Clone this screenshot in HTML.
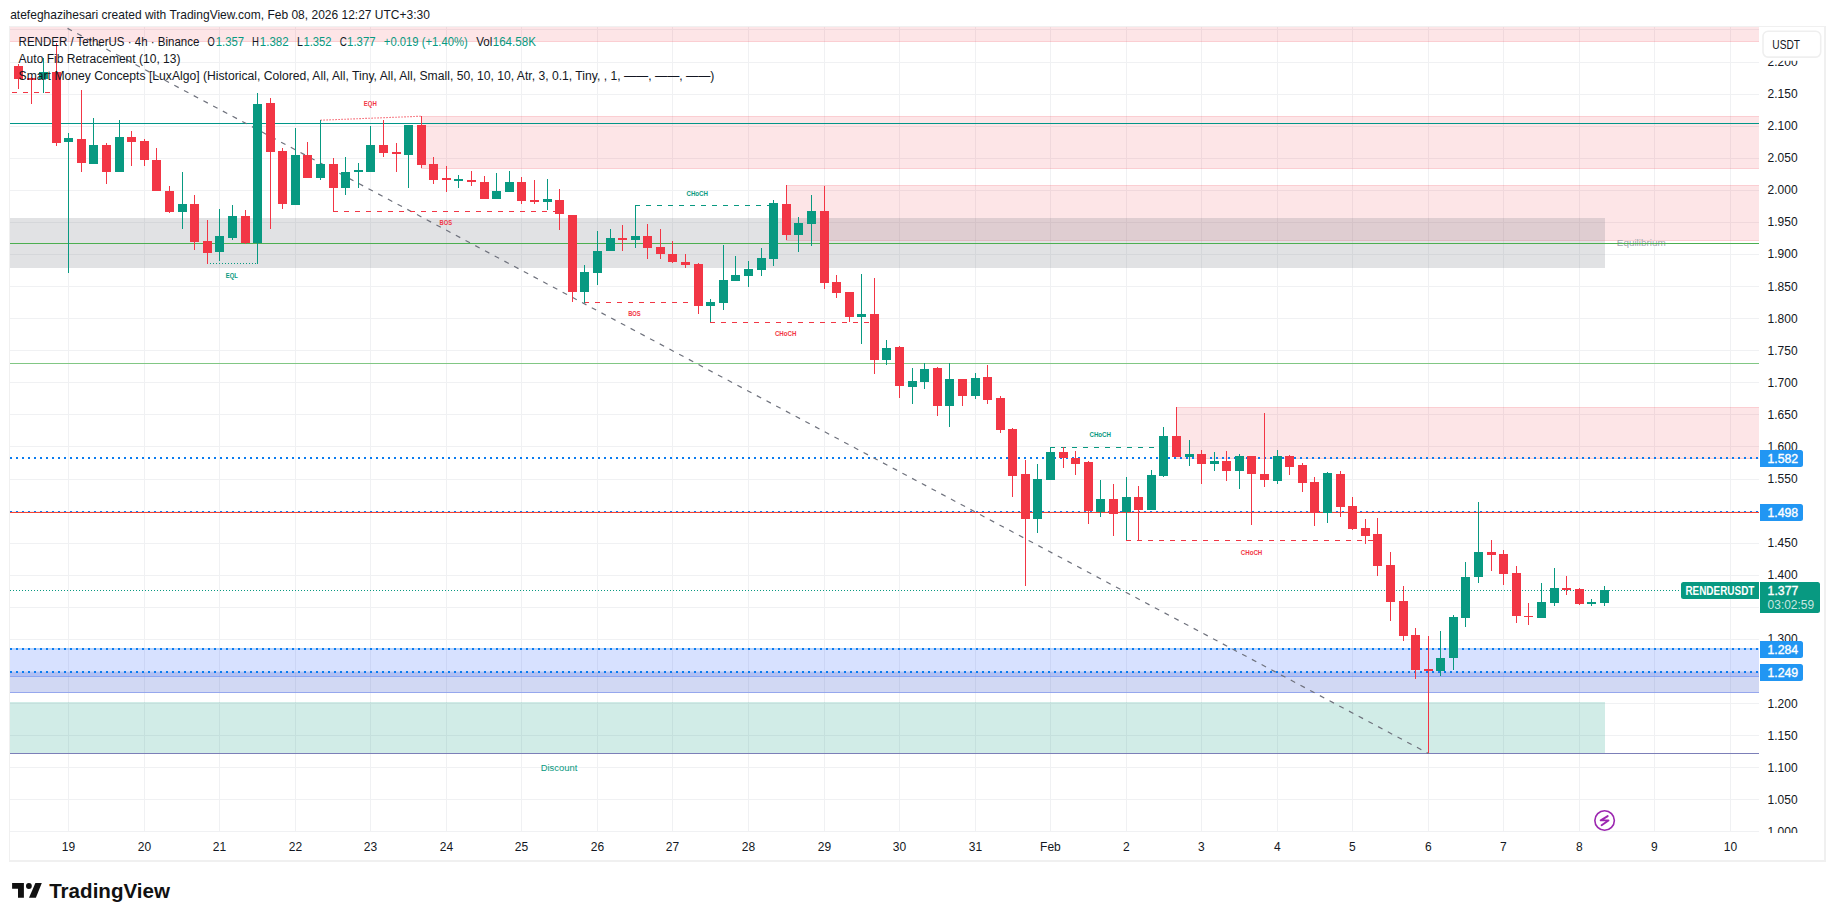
<!DOCTYPE html>
<html><head><meta charset="utf-8"><style>
html,body{margin:0;padding:0;background:#fff;}
body{width:1835px;height:921px;overflow:hidden;}
svg{display:block;font-family:"Liberation Sans",Arial,sans-serif;}
</style></head><body>
<svg width="1835" height="921" viewBox="0 0 1835 921">
<rect width="1835" height="921" fill="#fff"/>
<clipPath id="pane"><rect x="10" y="27" width="1749" height="805"/></clipPath>
<g clip-path="url(#pane)" shape-rendering="crispEdges">
<g fill="#f0f1f3"><rect x="68" y="27" width="1" height="805"/><rect x="144" y="27" width="1" height="805"/><rect x="219" y="27" width="1" height="805"/><rect x="295" y="27" width="1" height="805"/><rect x="370" y="27" width="1" height="805"/><rect x="446" y="27" width="1" height="805"/><rect x="521" y="27" width="1" height="805"/><rect x="597" y="27" width="1" height="805"/><rect x="672" y="27" width="1" height="805"/><rect x="748" y="27" width="1" height="805"/><rect x="824" y="27" width="1" height="805"/><rect x="899" y="27" width="1" height="805"/><rect x="975" y="27" width="1" height="805"/><rect x="1050" y="27" width="1" height="805"/><rect x="1126" y="27" width="1" height="805"/><rect x="1201" y="27" width="1" height="805"/><rect x="1277" y="27" width="1" height="805"/><rect x="1352" y="27" width="1" height="805"/><rect x="1428" y="27" width="1" height="805"/><rect x="1503" y="27" width="1" height="805"/><rect x="1579" y="27" width="1" height="805"/><rect x="1654" y="27" width="1" height="805"/><rect x="1730" y="27" width="1" height="805"/><rect x="10" y="831" width="1749" height="1"/><rect x="10" y="799" width="1749" height="1"/><rect x="10" y="767" width="1749" height="1"/><rect x="10" y="735" width="1749" height="1"/><rect x="10" y="703" width="1749" height="1"/><rect x="10" y="671" width="1749" height="1"/><rect x="10" y="639" width="1749" height="1"/><rect x="10" y="607" width="1749" height="1"/><rect x="10" y="575" width="1749" height="1"/><rect x="10" y="543" width="1749" height="1"/><rect x="10" y="511" width="1749" height="1"/><rect x="10" y="479" width="1749" height="1"/><rect x="10" y="446" width="1749" height="1"/><rect x="10" y="414" width="1749" height="1"/><rect x="10" y="382" width="1749" height="1"/><rect x="10" y="350" width="1749" height="1"/><rect x="10" y="318" width="1749" height="1"/><rect x="10" y="286" width="1749" height="1"/><rect x="10" y="254" width="1749" height="1"/><rect x="10" y="222" width="1749" height="1"/><rect x="10" y="190" width="1749" height="1"/><rect x="10" y="158" width="1749" height="1"/><rect x="10" y="126" width="1749" height="1"/><rect x="10" y="94" width="1749" height="1"/><rect x="10" y="62" width="1749" height="1"/><rect x="10" y="29" width="1749" height="1"/></g>
<rect x="10" y="26" width="1749" height="16" fill="#F23645" fill-opacity="0.13"/>
<rect x="10" y="26" width="1749" height="1" fill="#F23645" fill-opacity="0.13"/>
<rect x="10" y="41" width="1749" height="1" fill="#F23645" fill-opacity="0.13"/>
<rect x="421" y="116" width="1338" height="53" fill="#F23645" fill-opacity="0.13"/>
<rect x="421" y="116" width="1338" height="1" fill="#F23645" fill-opacity="0.13"/>
<rect x="421" y="168" width="1338" height="1" fill="#F23645" fill-opacity="0.13"/>
<rect x="786" y="185" width="973" height="56" fill="#F23645" fill-opacity="0.13"/>
<rect x="786" y="185" width="973" height="1" fill="#F23645" fill-opacity="0.13"/>
<rect x="786" y="240" width="973" height="1" fill="#F23645" fill-opacity="0.13"/>
<rect x="1176" y="407" width="583" height="52" fill="#F23645" fill-opacity="0.13"/>
<rect x="1176" y="407" width="583" height="1" fill="#F23645" fill-opacity="0.13"/>
<rect x="1176" y="458" width="583" height="1" fill="#F23645" fill-opacity="0.13"/>
<rect x="10" y="218" width="1595" height="50" fill="#787b86" fill-opacity="0.22"/>
<rect x="10" y="648" width="1749" height="29" fill="#2962ff" fill-opacity="0.19"/>
<rect x="10" y="672" width="1749" height="21" fill="#3350c8" fill-opacity="0.225"/>
<rect x="10" y="676" width="1749" height="1" fill="#6f8ff0" fill-opacity="0.55"/>
<rect x="10" y="692" width="1749" height="1" fill="#8fa2ec" fill-opacity="0.9"/>
<rect x="10" y="702" width="1595" height="51" fill="#089981" fill-opacity="0.19"/>
<rect x="10" y="753" width="1749" height="1" fill="#7c7fb8"/>
<text x="1616.8" y="245.8" fill="#a3a6af" font-size="9.2" textLength="48.9" lengthAdjust="spacingAndGlyphs">Equilibrium</text>
<rect x="10" y="123" width="1749" height="1" fill="#009688"/>
<rect x="10" y="243" width="1749" height="1" fill="#4caf50"/>
<rect x="10" y="363" width="1749" height="1" fill="#81c784"/>
<line x1="10" y1="458.0" x2="1759" y2="458.0" stroke="#0a7cf0" stroke-width="2" stroke-dasharray="2 4"/>
<line x1="10" y1="512.0" x2="1759" y2="512.0" stroke="#0a7cf0" stroke-width="2" stroke-dasharray="2 4"/>
<rect x="10" y="512" width="1749" height="1" fill="#f44336"/>
<rect x="10" y="648" width="1749" height="2" fill="#2196f3" fill-opacity="0.18"/>
<line x1="10" y1="649.0" x2="1759" y2="649.0" stroke="#0a7cf0" stroke-width="2" stroke-dasharray="2 4"/>
<line x1="10" y1="672.0" x2="1759" y2="672.0" stroke="#0a7cf0" stroke-width="2" stroke-dasharray="2 4"/>
<line x1="10" y1="590.5" x2="1680" y2="590.5" stroke="#089981" stroke-width="1" stroke-dasharray="1 2"/>
</g>
<g clip-path="url(#pane)">
<line x1="51.8" y1="20" x2="1428.5" y2="753.5" stroke="#6e717c" stroke-width="1.2" stroke-dasharray="5 6" stroke-dashoffset="4.2"/>
</g>
<g clip-path="url(#pane)" shape-rendering="crispEdges">
<line x1="12" y1="92.5" x2="50.5" y2="92.5" stroke="#F23645" stroke-width="1" stroke-dasharray="5 6"/>
<line x1="333" y1="211.5" x2="560" y2="211.5" stroke="#F23645" stroke-width="1" stroke-dasharray="5 6"/>
<line x1="635" y1="205.5" x2="774" y2="205.5" stroke="#089981" stroke-width="1" stroke-dasharray="5 6"/>
<line x1="584" y1="302.5" x2="699" y2="302.5" stroke="#F23645" stroke-width="1" stroke-dasharray="5 6"/>
<line x1="710" y1="322.5" x2="875" y2="322.5" stroke="#F23645" stroke-width="1" stroke-dasharray="5 6"/>
<line x1="1050" y1="447.5" x2="1164" y2="447.5" stroke="#089981" stroke-width="1" stroke-dasharray="5 6"/>
<line x1="1126" y1="540.5" x2="1373" y2="540.5" stroke="#F23645" stroke-width="1" stroke-dasharray="5 6"/>
</g>
<g clip-path="url(#pane)">
<line x1="320.5" y1="120.2" x2="421.5" y2="116.2" stroke="#F23645" stroke-width="1.1" stroke-dasharray="1.2 1.8"/>
<line x1="207" y1="263.5" x2="258" y2="263.5" stroke="#089981" stroke-width="1" stroke-dasharray="1 2" shape-rendering="crispEdges"/>
</g>
<g clip-path="url(#pane)" shape-rendering="crispEdges"><g fill="#F23645"><rect x="18" y="64" width="1" height="25"/><rect x="14" y="66" width="9" height="13"/><rect x="31" y="77" width="1" height="27"/><rect x="27" y="78" width="9" height="2"/><rect x="56" y="43" width="1" height="103"/><rect x="52" y="72" width="9" height="71"/><rect x="81" y="90" width="1" height="82"/><rect x="77" y="139" width="9" height="24"/><rect x="106" y="143" width="1" height="41"/><rect x="102" y="145" width="9" height="27"/><rect x="131" y="131" width="1" height="35"/><rect x="127" y="137" width="9" height="5"/><rect x="144" y="139" width="1" height="27"/><rect x="140" y="141" width="9" height="19"/><rect x="156" y="148" width="1" height="43"/><rect x="152" y="160" width="9" height="31"/><rect x="169" y="186" width="1" height="27"/><rect x="165" y="191" width="9" height="21"/><rect x="194" y="195" width="1" height="55"/><rect x="190" y="204" width="9" height="38"/><rect x="207" y="220" width="1" height="44"/><rect x="203" y="241" width="9" height="12"/><rect x="245" y="210" width="1" height="34"/><rect x="241" y="216" width="9" height="27"/><rect x="270" y="98" width="1" height="131"/><rect x="266" y="103" width="9" height="49"/><rect x="282" y="148" width="1" height="61"/><rect x="278" y="151" width="9" height="53"/><rect x="307" y="142" width="1" height="36"/><rect x="303" y="155" width="9" height="23"/><rect x="333" y="158" width="1" height="53"/><rect x="329" y="164" width="9" height="24"/><rect x="383" y="120" width="1" height="37"/><rect x="379" y="145" width="9" height="8"/><rect x="396" y="143" width="1" height="29"/><rect x="392" y="152" width="9" height="2"/><rect x="421" y="116" width="1" height="52"/><rect x="417" y="125" width="9" height="40"/><rect x="433" y="157" width="1" height="27"/><rect x="429" y="164" width="9" height="16"/><rect x="446" y="166" width="1" height="26"/><rect x="442" y="178" width="9" height="2"/><rect x="471" y="171" width="1" height="15"/><rect x="467" y="180" width="9" height="2"/><rect x="484" y="176" width="1" height="23"/><rect x="480" y="182" width="9" height="17"/><rect x="521" y="177" width="1" height="27"/><rect x="517" y="182" width="9" height="19"/><rect x="534" y="180" width="1" height="24"/><rect x="530" y="200" width="9" height="2"/><rect x="559" y="189" width="1" height="41"/><rect x="555" y="200" width="9" height="14"/><rect x="572" y="215" width="1" height="87"/><rect x="568" y="215" width="9" height="77"/><rect x="622" y="225" width="1" height="26"/><rect x="618" y="238" width="9" height="2"/><rect x="647" y="224" width="1" height="35"/><rect x="643" y="236" width="9" height="12"/><rect x="660" y="229" width="1" height="30"/><rect x="656" y="247" width="9" height="7"/><rect x="672" y="241" width="1" height="22"/><rect x="668" y="254" width="9" height="8"/><rect x="685" y="254" width="1" height="14"/><rect x="681" y="262" width="9" height="3"/><rect x="698" y="263" width="1" height="51"/><rect x="694" y="264" width="9" height="42"/><rect x="786" y="185" width="1" height="55"/><rect x="782" y="204" width="9" height="31"/><rect x="824" y="186" width="1" height="103"/><rect x="820" y="211" width="9" height="72"/><rect x="836" y="275" width="1" height="23"/><rect x="832" y="282" width="9" height="11"/><rect x="849" y="292" width="1" height="30"/><rect x="845" y="292" width="9" height="25"/><rect x="874" y="278" width="1" height="96"/><rect x="870" y="314" width="9" height="46"/><rect x="899" y="346" width="1" height="52"/><rect x="895" y="347" width="9" height="39"/><rect x="937" y="367" width="1" height="49"/><rect x="933" y="368" width="9" height="38"/><rect x="962" y="379" width="1" height="27"/><rect x="958" y="379" width="9" height="17"/><rect x="987" y="365" width="1" height="39"/><rect x="983" y="377" width="9" height="23"/><rect x="1000" y="396" width="1" height="37"/><rect x="996" y="398" width="9" height="32"/><rect x="1012" y="428" width="1" height="69"/><rect x="1008" y="429" width="9" height="47"/><rect x="1025" y="460" width="1" height="126"/><rect x="1021" y="474" width="9" height="45"/><rect x="1063" y="447" width="1" height="21"/><rect x="1059" y="452" width="9" height="6"/><rect x="1075" y="451" width="1" height="24"/><rect x="1071" y="458" width="9" height="6"/><rect x="1088" y="461" width="1" height="63"/><rect x="1084" y="462" width="9" height="49"/><rect x="1113" y="484" width="1" height="52"/><rect x="1109" y="499" width="9" height="15"/><rect x="1138" y="486" width="1" height="54"/><rect x="1134" y="497" width="9" height="13"/><rect x="1176" y="407" width="1" height="50"/><rect x="1172" y="436" width="9" height="21"/><rect x="1201" y="450" width="1" height="34"/><rect x="1197" y="454" width="9" height="10"/><rect x="1226" y="451" width="1" height="30"/><rect x="1222" y="461" width="9" height="10"/><rect x="1251" y="456" width="1" height="69"/><rect x="1247" y="456" width="9" height="18"/><rect x="1264" y="413" width="1" height="74"/><rect x="1260" y="474" width="9" height="6"/><rect x="1289" y="455" width="1" height="20"/><rect x="1285" y="456" width="9" height="11"/><rect x="1302" y="463" width="1" height="29"/><rect x="1298" y="465" width="9" height="18"/><rect x="1314" y="477" width="1" height="49"/><rect x="1310" y="482" width="9" height="31"/><rect x="1340" y="471" width="1" height="46"/><rect x="1336" y="474" width="9" height="33"/><rect x="1352" y="497" width="1" height="33"/><rect x="1348" y="506" width="9" height="23"/><rect x="1365" y="519" width="1" height="25"/><rect x="1361" y="528" width="9" height="8"/><rect x="1377" y="518" width="1" height="58"/><rect x="1373" y="534" width="9" height="32"/><rect x="1390" y="552" width="1" height="69"/><rect x="1386" y="565" width="9" height="37"/><rect x="1403" y="586" width="1" height="55"/><rect x="1399" y="601" width="9" height="35"/><rect x="1415" y="628" width="1" height="51"/><rect x="1411" y="635" width="9" height="35"/><rect x="1428" y="636" width="1" height="117"/><rect x="1424" y="669" width="9" height="2"/><rect x="1491" y="540" width="1" height="31"/><rect x="1487" y="552" width="9" height="3"/><rect x="1503" y="550" width="1" height="35"/><rect x="1499" y="554" width="9" height="20"/><rect x="1516" y="566" width="1" height="57"/><rect x="1512" y="573" width="9" height="43"/><rect x="1528" y="603" width="1" height="22"/><rect x="1524" y="616" width="9" height="1"/><rect x="1566" y="576" width="1" height="19"/><rect x="1562" y="588" width="9" height="2"/><rect x="1579" y="588" width="1" height="17"/><rect x="1575" y="589" width="9" height="15"/></g>
<g fill="#089981"><rect x="43" y="58" width="1" height="35"/><rect x="39" y="72" width="9" height="7"/><rect x="68" y="133" width="1" height="140"/><rect x="64" y="138" width="9" height="4"/><rect x="93" y="118" width="1" height="46"/><rect x="89" y="145" width="9" height="19"/><rect x="119" y="120" width="1" height="52"/><rect x="115" y="137" width="9" height="35"/><rect x="182" y="172" width="1" height="57"/><rect x="178" y="204" width="9" height="8"/><rect x="219" y="209" width="1" height="52"/><rect x="215" y="236" width="9" height="16"/><rect x="232" y="205" width="1" height="35"/><rect x="228" y="216" width="9" height="22"/><rect x="257" y="93" width="1" height="171"/><rect x="253" y="104" width="9" height="139"/><rect x="295" y="128" width="1" height="77"/><rect x="291" y="155" width="9" height="50"/><rect x="320" y="120" width="1" height="60"/><rect x="316" y="164" width="9" height="14"/><rect x="345" y="157" width="1" height="38"/><rect x="341" y="172" width="9" height="16"/><rect x="358" y="163" width="1" height="25"/><rect x="354" y="170" width="9" height="2"/><rect x="370" y="126" width="1" height="46"/><rect x="366" y="145" width="9" height="27"/><rect x="408" y="125" width="1" height="63"/><rect x="404" y="125" width="9" height="30"/><rect x="458" y="175" width="1" height="13"/><rect x="454" y="179" width="9" height="2"/><rect x="496" y="173" width="1" height="26"/><rect x="492" y="191" width="9" height="8"/><rect x="509" y="171" width="1" height="21"/><rect x="505" y="182" width="9" height="10"/><rect x="547" y="179" width="1" height="31"/><rect x="543" y="199" width="9" height="3"/><rect x="584" y="265" width="1" height="38"/><rect x="580" y="272" width="9" height="20"/><rect x="597" y="231" width="1" height="54"/><rect x="593" y="251" width="9" height="22"/><rect x="610" y="229" width="1" height="22"/><rect x="606" y="238" width="9" height="13"/><rect x="635" y="205" width="1" height="43"/><rect x="631" y="236" width="9" height="4"/><rect x="710" y="299" width="1" height="23"/><rect x="706" y="302" width="9" height="4"/><rect x="723" y="245" width="1" height="65"/><rect x="719" y="280" width="9" height="23"/><rect x="735" y="256" width="1" height="25"/><rect x="731" y="275" width="9" height="6"/><rect x="748" y="261" width="1" height="26"/><rect x="744" y="269" width="9" height="7"/><rect x="761" y="248" width="1" height="28"/><rect x="757" y="258" width="9" height="12"/><rect x="773" y="200" width="1" height="66"/><rect x="769" y="203" width="9" height="56"/><rect x="798" y="217" width="1" height="35"/><rect x="794" y="223" width="9" height="12"/><rect x="811" y="195" width="1" height="51"/><rect x="807" y="211" width="9" height="13"/><rect x="861" y="274" width="1" height="70"/><rect x="857" y="314" width="9" height="3"/><rect x="886" y="340" width="1" height="25"/><rect x="882" y="348" width="9" height="12"/><rect x="912" y="368" width="1" height="36"/><rect x="908" y="381" width="9" height="6"/><rect x="924" y="363" width="1" height="26"/><rect x="920" y="369" width="9" height="13"/><rect x="949" y="363" width="1" height="64"/><rect x="945" y="379" width="9" height="27"/><rect x="975" y="373" width="1" height="26"/><rect x="971" y="378" width="9" height="18"/><rect x="1037" y="464" width="1" height="69"/><rect x="1033" y="479" width="9" height="40"/><rect x="1050" y="447" width="1" height="33"/><rect x="1046" y="452" width="9" height="28"/><rect x="1100" y="480" width="1" height="37"/><rect x="1096" y="499" width="9" height="13"/><rect x="1126" y="477" width="1" height="63"/><rect x="1122" y="497" width="9" height="15"/><rect x="1151" y="470" width="1" height="40"/><rect x="1147" y="475" width="9" height="35"/><rect x="1163" y="427" width="1" height="50"/><rect x="1159" y="436" width="9" height="40"/><rect x="1189" y="440" width="1" height="26"/><rect x="1185" y="454" width="9" height="3"/><rect x="1214" y="452" width="1" height="19"/><rect x="1210" y="461" width="9" height="3"/><rect x="1239" y="454" width="1" height="35"/><rect x="1235" y="456" width="9" height="15"/><rect x="1277" y="450" width="1" height="34"/><rect x="1273" y="456" width="9" height="25"/><rect x="1327" y="472" width="1" height="51"/><rect x="1323" y="473" width="9" height="40"/><rect x="1440" y="631" width="1" height="45"/><rect x="1436" y="658" width="9" height="13"/><rect x="1453" y="615" width="1" height="55"/><rect x="1449" y="617" width="9" height="41"/><rect x="1465" y="562" width="1" height="65"/><rect x="1461" y="577" width="9" height="41"/><rect x="1478" y="502" width="1" height="81"/><rect x="1474" y="552" width="9" height="25"/><rect x="1541" y="583" width="1" height="35"/><rect x="1537" y="602" width="9" height="16"/><rect x="1554" y="568" width="1" height="38"/><rect x="1550" y="588" width="9" height="15"/><rect x="1591" y="599" width="1" height="7"/><rect x="1587" y="602" width="9" height="2"/><rect x="1604" y="586" width="1" height="20"/><rect x="1600" y="590" width="9" height="13"/></g></g>
<text x="363.8" y="105.9" fill="#F23645" font-size="7" font-weight="bold" textLength="13" lengthAdjust="spacingAndGlyphs">EQH</text>
<text x="225.8" y="278" fill="#089981" font-size="7" font-weight="bold" textLength="12.1" lengthAdjust="spacingAndGlyphs">EQL</text>
<text x="439.6" y="224.6" fill="#F23645" font-size="7" font-weight="bold" textLength="12.5" lengthAdjust="spacingAndGlyphs">BOS</text>
<text x="686.5" y="196" fill="#089981" font-size="7" font-weight="bold" textLength="21.5" lengthAdjust="spacingAndGlyphs">CHoCH</text>
<text x="628.2" y="315.6" fill="#F23645" font-size="7" font-weight="bold" textLength="12.5" lengthAdjust="spacingAndGlyphs">BOS</text>
<text x="774.9" y="335.8" fill="#F23645" font-size="7" font-weight="bold" textLength="21.5" lengthAdjust="spacingAndGlyphs">CHoCH</text>
<text x="1089.5" y="437" fill="#089981" font-size="7" font-weight="bold" textLength="21.5" lengthAdjust="spacingAndGlyphs">CHoCH</text>
<text x="1240.8" y="554.9" fill="#F23645" font-size="7" font-weight="bold" textLength="21.5" lengthAdjust="spacingAndGlyphs">CHoCH</text>
<text x="540.7" y="770.9" fill="#089981" font-size="9.2" textLength="36.6" lengthAdjust="spacingAndGlyphs">Discount</text>
<g transform="translate(1604.6,820.5)"><circle r="9.75" fill="#fff" stroke="#9c27b0" stroke-width="1.6"/><path d="M3.1,-4.4 L-3.9,-0.1 H3.9 L-3,4.8" fill="none" stroke="#9c27b0" stroke-width="1.9" stroke-linejoin="round" stroke-linecap="round"/></g>
<text x="18.6" y="45.5" font-size="12" fill="#131722" textLength="180.8" lengthAdjust="spacingAndGlyphs">RENDER / TetherUS · 4h · Binance</text>
<text x="207.5" y="45.5" font-size="12" fill="#131722" textLength="7.2" lengthAdjust="spacingAndGlyphs">O</text>
<text x="215.7" y="45.5" font-size="12" fill="#089981" textLength="28.4" lengthAdjust="spacingAndGlyphs">1.357</text>
<text x="252" y="45.5" font-size="12" fill="#131722" textLength="6.9" lengthAdjust="spacingAndGlyphs">H</text>
<text x="259.8" y="45.5" font-size="12" fill="#089981" textLength="28.9" lengthAdjust="spacingAndGlyphs">1.382</text>
<text x="297.1" y="45.5" font-size="12" fill="#131722" textLength="5.9" lengthAdjust="spacingAndGlyphs">L</text>
<text x="303.4" y="45.5" font-size="12" fill="#089981" textLength="28.1" lengthAdjust="spacingAndGlyphs">1.352</text>
<text x="339.7" y="45.5" font-size="12" fill="#131722" textLength="7.1" lengthAdjust="spacingAndGlyphs">C</text>
<text x="347.1" y="45.5" font-size="12" fill="#089981" textLength="28.5" lengthAdjust="spacingAndGlyphs">1.377</text>
<text x="383.8" y="45.5" font-size="12" fill="#089981" textLength="84.0" lengthAdjust="spacingAndGlyphs">+0.019 (+1.40%)</text>
<text x="476.2" y="45.5" font-size="12" fill="#131722" textLength="16.1" lengthAdjust="spacingAndGlyphs">Vol</text>
<text x="492.7" y="45.5" font-size="12" fill="#089981" textLength="43.2" lengthAdjust="spacingAndGlyphs">164.58K</text>
<text x="18.6" y="62.5" font-size="12" fill="#131722" textLength="161.9" lengthAdjust="spacingAndGlyphs">Auto Fib Retracement (10, 13)</text>
<text x="18.6" y="79.8" font-size="12" fill="#131722" textLength="695.8" lengthAdjust="spacingAndGlyphs">Smart Money Concepts [LuxAlgo] (Historical, Colored, All, All, Tiny, All, All, Small, 50, 10, 10, Atr, 3, 0.1, Tiny, , 1, ——, ——, ——)</text>
<clipPath id="pax"><rect x="1759" y="27" width="66" height="806"/></clipPath>
<g clip-path="url(#pax)" font-size="12" fill="#131722"><text x="1767.6" y="835.8">1.000</text><text x="1767.6" y="803.7">1.050</text><text x="1767.6" y="771.6">1.100</text><text x="1767.6" y="739.5">1.150</text><text x="1767.6" y="707.5">1.200</text><text x="1767.6" y="643.3">1.300</text><text x="1767.6" y="579.2">1.400</text><text x="1767.6" y="547.1">1.450</text><text x="1767.6" y="482.9">1.550</text><text x="1767.6" y="450.9">1.600</text><text x="1767.6" y="418.8">1.650</text><text x="1767.6" y="386.7">1.700</text><text x="1767.6" y="354.6">1.750</text><text x="1767.6" y="322.6">1.800</text><text x="1767.6" y="290.5">1.850</text><text x="1767.6" y="258.4">1.900</text><text x="1767.6" y="226.3">1.950</text><text x="1767.6" y="194.3">2.000</text><text x="1767.6" y="162.2">2.050</text><text x="1767.6" y="130.1">2.100</text><text x="1767.6" y="98.0">2.150</text><text x="1767.6" y="65.9">2.200</text></g>
<rect x="1760" y="56" width="63" height="4.8" fill="#fff"/>
<rect x="1763" y="31.3" width="57.7" height="25.8" rx="5" fill="#fff" stroke="#efefef" stroke-width="1.6"/>
<text x="1772.3" y="48.9" font-size="12.3" fill="#131722" textLength="27.7" lengthAdjust="spacingAndGlyphs">USDT</text>
<path d="M1760,450 H1800.5 Q1803,450 1803,452.5 V464.5 Q1803,467 1800.5,467 H1760 Z" fill="#2196f3"/>
<text x="1767.4" y="462.9" font-size="12.3" fill="#fff" stroke="#fff" stroke-width="0.35">1.582</text>
<path d="M1760,504 H1800.5 Q1803,504 1803,506.5 V518.5 Q1803,521 1800.5,521 H1760 Z" fill="#2196f3"/>
<text x="1767.4" y="516.9" font-size="12.3" fill="#fff" stroke="#fff" stroke-width="0.35">1.498</text>
<path d="M1760,641 H1800.5 Q1803,641 1803,643.5 V655.5 Q1803,658 1800.5,658 H1760 Z" fill="#2196f3"/>
<text x="1767.4" y="653.9" font-size="12.3" fill="#fff" stroke="#fff" stroke-width="0.35">1.284</text>
<path d="M1760,664 H1800.5 Q1803,664 1803,666.5 V678.5 Q1803,681 1800.5,681 H1760 Z" fill="#2196f3"/>
<text x="1767.4" y="676.9" font-size="12.3" fill="#fff" stroke="#fff" stroke-width="0.35">1.249</text>
<path d="M1760,582 H1817.5 Q1820,582 1820,584.5 V610.5 Q1820,613 1817.5,613 H1760 Z" fill="#089981"/>
<text x="1767.6" y="595" font-size="12.3" fill="#fff" stroke="#fff" stroke-width="0.35">1.377</text>
<text x="1767.6" y="608.8" font-size="12.3" fill="#fff" fill-opacity="0.78" textLength="46.5" lengthAdjust="spacingAndGlyphs">03:02:59</text>
<path d="M1759,582 V599 H1683.5 Q1681,599 1681,596.5 V584.5 Q1681,582 1683.5,582 Z" fill="#089981"/>
<text x="1719.9" y="595" font-size="12" font-weight="bold" fill="#fff" text-anchor="middle" textLength="69" lengthAdjust="spacingAndGlyphs">RENDERUSDT</text>
<g font-size="12" fill="#131722"><text x="68.4" y="850.9" text-anchor="middle">19</text><text x="144.4" y="850.9" text-anchor="middle">20</text><text x="219.4" y="850.9" text-anchor="middle">21</text><text x="295.4" y="850.9" text-anchor="middle">22</text><text x="370.4" y="850.9" text-anchor="middle">23</text><text x="446.4" y="850.9" text-anchor="middle">24</text><text x="521.4" y="850.9" text-anchor="middle">25</text><text x="597.4" y="850.9" text-anchor="middle">26</text><text x="672.4" y="850.9" text-anchor="middle">27</text><text x="748.4" y="850.9" text-anchor="middle">28</text><text x="824.4" y="850.9" text-anchor="middle">29</text><text x="899.4" y="850.9" text-anchor="middle">30</text><text x="975.4" y="850.9" text-anchor="middle">31</text><text x="1050.4" y="850.9" text-anchor="middle">Feb</text><text x="1126.4" y="850.9" text-anchor="middle">2</text><text x="1201.4" y="850.9" text-anchor="middle">3</text><text x="1277.4" y="850.9" text-anchor="middle">4</text><text x="1352.4" y="850.9" text-anchor="middle">5</text><text x="1428.4" y="850.9" text-anchor="middle">6</text><text x="1503.4" y="850.9" text-anchor="middle">7</text><text x="1579.4" y="850.9" text-anchor="middle">8</text><text x="1654.4" y="850.9" text-anchor="middle">9</text><text x="1730.4" y="850.9" text-anchor="middle">10</text></g>
<g fill="#f0f0f0" shape-rendering="crispEdges"><rect x="9" y="26" width="1817" height="1"/><rect x="9" y="26" width="1" height="836"/><rect x="1824" y="26" width="2" height="836"/><rect x="9" y="860" width="1817" height="2"/></g>
<text x="10.2" y="18.7" font-size="13" fill="#131722" textLength="419.7" lengthAdjust="spacingAndGlyphs">atefeghazihesari created with TradingView.com, Feb 08, 2026 12:27 UTC+3:30</text>
<g fill="#111"><path d="M12.1,883.1 H23.9 V897.8 H18 V888.7 H12.1 Z"/><circle cx="28.9" cy="886" r="2.9"/><path d="M35.4,883.1 H41.8 L35.9,897.8 H29 Z"/></g>
<text x="49.2" y="897.8" font-size="20.2" font-weight="bold" fill="#111" textLength="120.8" lengthAdjust="spacingAndGlyphs">TradingView</text>
</svg>
</body></html>
